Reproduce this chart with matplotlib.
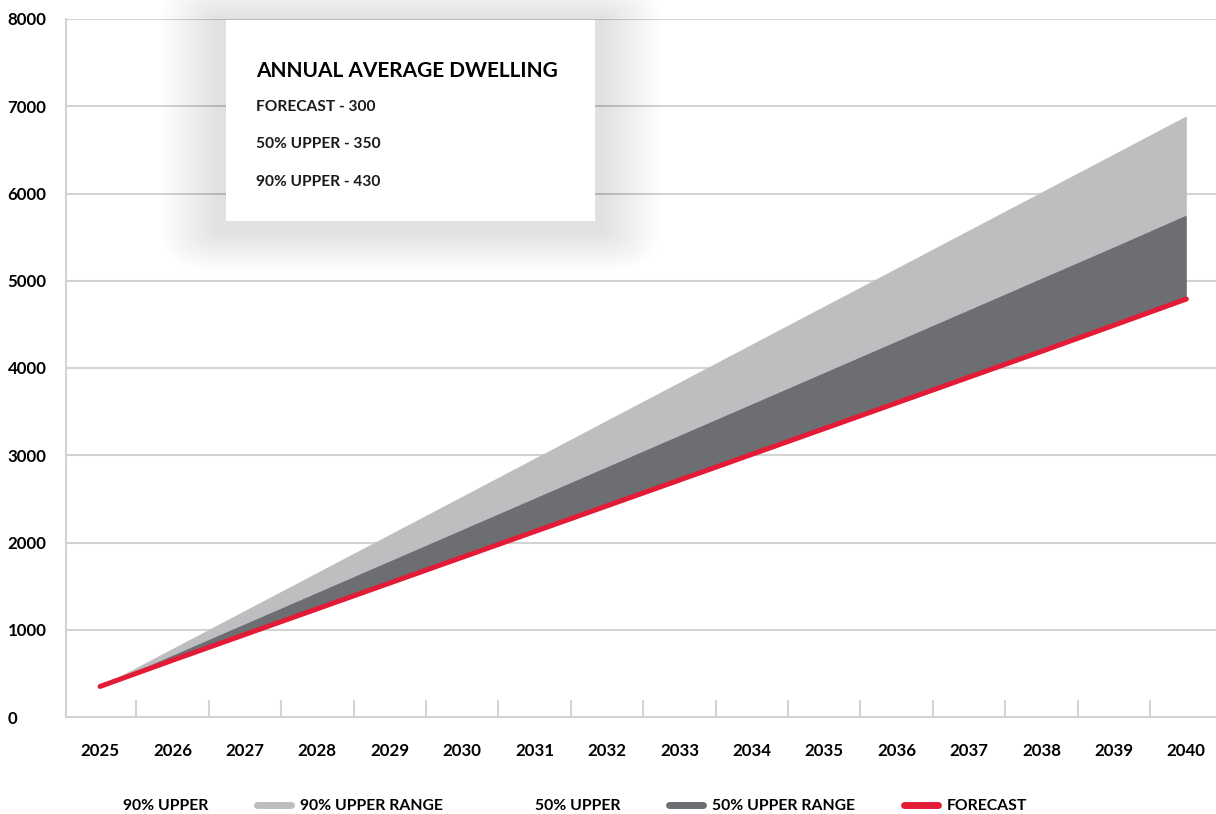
import matplotlib
matplotlib.use('Agg')
import matplotlib.pyplot as plt
from matplotlib.patches import FancyBboxPatch, Rectangle
from matplotlib.lines import Line2D

plt.rcParams['font.family'] = ['Lato', 'DejaVu Sans']
plt.rcParams['font.weight'] = 'bold'

# data
years = list(range(2025, 2041))
forecast = [350, 650, 945, 1240, 1535, 1830, 2125, 2420, 2715, 3010, 3305, 3600, 3895, 4190, 4490, 4790]
upper_50 = [350, 710, 1070, 1430, 1790, 2150, 2510, 2870, 3230, 3590, 3950, 4310, 4670, 5030, 5390, 5755]
upper_90 = [350, 786, 1222, 1658, 2094, 2530, 2966, 3402, 3838, 4274, 4710, 5146, 5582, 6018, 6454, 6890]
yticks = [0, 1000, 2000, 3000, 4000, 5000, 6000, 7000, 8000]
box_title = 'ANNUAL AVERAGE DWELLING'
box_lines = ['FORECAST - 300', '50% UPPER - 350', '90% UPPER - 430']

light = '#bdbec0'
dark = '#6d6e71'
red = '#e31b37'
grid = '#d3d3d3'

W, H = 1216, 814
fig = plt.figure(figsize=(W / 100, H / 100), dpi=100)
ax = fig.add_axes([66 / W, 1 - 717 / H, 1 - 66 / W, (717 - 19) / H])

ax.fill_between(years, upper_50, upper_90, color=light, lw=0, zorder=2)
ax.fill_between(years, forecast, upper_50, color=dark, lw=0, zorder=2)
ax.plot(years, forecast, color=red, lw=3.6, solid_capstyle='round', zorder=3)

ax.set_ylim(0, 8000)
ax.set_xlim(2024.53, 2040.41)
ax.set_yticks(yticks)
ax.set_xticks(years)
ax.set_xticks([y + 0.5 for y in years[:-1]], minor=True)
ax.grid(axis='y', color=grid, lw=1.5, zorder=0)
ax.set_axisbelow(True)

for s in ['top', 'right']:
    ax.spines[s].set_visible(False)
for s in ['left', 'bottom']:
    ax.spines[s].set_color(grid)
    ax.spines[s].set_linewidth(1.5)

ax.tick_params(axis='x', which='major', length=0, pad=19, labelsize=12.2)
ax.tick_params(axis='x', which='minor', direction='in', length=12, width=1.5, color=grid)
ax.tick_params(axis='y', length=0, pad=42, labelsize=12.2)
for lab in ax.get_yticklabels():
    lab.set_ha('left')

# annotation box with soft shadow (pixel coords -> figure fraction)
bx0, by0, bx1, by1 = 226, 20, 595, 221
for i in range(30):
    pad = 60 - i * 2
    sh = FancyBboxPatch(((bx0 - 6) / W, 1 - (by1 + 10) / H), (bx1 - bx0 + 12) / W, (by1 - by0 + 10) / H,
                        boxstyle=f'round,pad={pad / W},rounding_size={pad / W}',
                        transform=fig.transFigure, facecolor='#000000', alpha=0.003,
                        lw=0, zorder=5)
    fig.patches.append(sh)
box = Rectangle((bx0 / W, 1 - by1 / H), (bx1 - bx0) / W, (by1 - by0) / H,
                transform=fig.transFigure, facecolor='white', lw=0, zorder=6)
fig.patches.append(box)

fig.text(256 / W, 1 - 71 / H, box_title, fontsize=15, fontweight='bold',
         va='center', ha='left', zorder=7)
for txt, yy in zip(box_lines, [107, 144, 182]):
    fig.text(256 / W, 1 - yy / H, txt, fontsize=11.2, fontweight='bold',
             va='center', ha='left', color='#1a1a1a', zorder=7)

handles = [
    Line2D([], [], color='none', lw=5),
    Line2D([], [], color=light, lw=5, solid_capstyle='round'),
    Line2D([], [], color='none', lw=5),
    Line2D([], [], color=dark, lw=5, solid_capstyle='round'),
    Line2D([], [], color=red, lw=5, solid_capstyle='round'),
]
labels = ['90% UPPER', '90% UPPER RANGE', '50% UPPER', '50% UPPER RANGE', 'FORECAST']
leg = fig.legend(handles, labels, loc='center', bbox_to_anchor=(0.455, 1 - 806 / H), ncol=5,
                 frameon=False, prop={'size': 11.3, 'weight': 'bold'}, handlelength=2.2,
                 handletextpad=0.55, columnspacing=3.1, borderpad=0, borderaxespad=0)

fig.savefig('out.png', dpi=100)
